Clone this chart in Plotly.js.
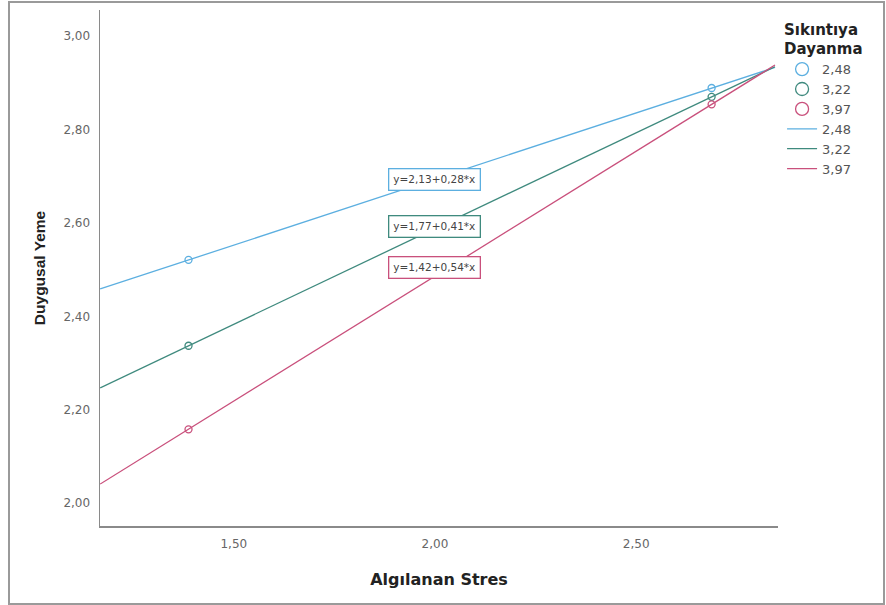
<!DOCTYPE html>
<html>
<head>
<meta charset="utf-8">
<script src="https://cdn.plot.ly/plotly-3.0.1.min.js"></script>
<style>
  html, body { margin: 0; padding: 0; background: #fff; }
  #chart { width: 886px; height: 605px; position: absolute; left: 0; top: 0; }
  #frame { position: absolute; left: 8px; top: 1px; width: 873px; height: 600px; border: 2px solid #9a9a9a; pointer-events: none; }
</style>
</head>
<body>
<div id="chart"></div>
<div id="frame"></div>
<script>
// Groups (Sıkıntıya Dayanma levels)
const groups = ["2,48", "3,22", "3,97"];
const colors = ["#5cafe0", "#3f8a7e", "#c9507c"];
// Observed points (Algılanan Stres at low / high)
const pointX = [1.3875, 2.6875];
const pointY_248 = [2.521, 2.889];
const pointY_322 = [2.337, 2.870];
const pointY_397 = [2.158, 2.854];
// Fit lines (as drawn) and their printed equations
const intercepts = [2.128, 1.768, 1.416];
const slopes = [0.283, 0.41, 0.535];
const eqLabels = ["y=2,13+0,28*x", "y=1,77+0,41*x", "y=1,42+0,54*x"];
const eqLabelX = [2.0, 2.0, 2.0];
const eqLabelY = [2.692, 2.593, 2.505];
// Fit line x range
const lineX = [1.168, 2.845];

const pointYs = [pointY_248, pointY_322, pointY_397];
const font = "Liberation Sans, Arial, sans-serif";
const dfont = "DejaVu Sans, Verdana, sans-serif";

const traces = [];
// observed points (plotted)
groups.forEach((g, i) => {
  traces.push({
    x: pointX, y: pointYs[i], mode: "markers", type: "scatter", name: g,
    marker: { symbol: "circle-open", size: 7, color: colors[i], line: { width: 1.3, color: colors[i] } },
    showlegend: false
  });
});
// legend entries for points (larger symbol in legend)
groups.forEach((g, i) => {
  traces.push({
    x: [null], y: [null], mode: "markers", type: "scatter", name: g,
    marker: { symbol: "circle-open", size: 13, color: colors[i], line: { width: 1.3, color: colors[i] } }
  });
});
// fit lines
groups.forEach((g, i) => {
  traces.push({
    x: lineX, y: lineX.map(x => intercepts[i] + slopes[i] * x), mode: "lines", type: "scatter", name: g,
    line: { color: colors[i], width: 1.3 }
  });
});

const annotations = eqLabels.map((t, i) => ({
  x: eqLabelX[i], y: eqLabelY[i], xref: "x", yref: "y", text: t, showarrow: false,
  font: { family: dfont, size: 10.5, color: "#444" },
  bgcolor: "#ffffff", bordercolor: colors[i], borderwidth: 1.3, borderpad: 4
}));

const layout = {
  width: 886, height: 605,
  margin: { l: 100, r: 108, t: 10, b: 79 },
  paper_bgcolor: "#fff", plot_bgcolor: "#fff",
  font: { family: font, color: "#333" },
  showlegend: true,
  legend: {
    x: 1.006, xanchor: "left", y: 0.99, yanchor: "top",
    title: { text: "<b>Sıkıntıya<br>Dayanma</b>", font: { family: dfont, size: 15, color: "#222" }, side: "top" },
    font: { family: dfont, size: 13, color: "#555" },
    tracegroupgap: 0, traceorder: "normal", itemwidth: 30
  },
  xaxis: {
    range: [1.1675, 2.8525], showgrid: false, zeroline: false,
    showline: true, linecolor: "#8a8a8a", linewidth: 1.5, ticks: "",
    tickvals: [1.5, 2.0, 2.5], ticktext: ["1,50", "2,00", "2,50"],
    tickfont: { family: dfont, size: 12, color: "#666" }, ticklabelstandoff: 6,
    title: { text: "<b>Algılanan Stres</b>", font: { family: dfont, size: 16, color: "#222" }, standoff: 24 }
  },
  yaxis: {
    range: [1.951, 3.056], showgrid: false, zeroline: false,
    showline: true, linecolor: "#8a8a8a", linewidth: 1.5, ticks: "",
    tickvals: [2.0, 2.2, 2.4, 2.6, 2.8, 3.0], ticktext: ["2,00", "2,20", "2,40", "2,60", "2,80", "3,00"],
    tickfont: { family: dfont, size: 12, color: "#666" }, ticklabelstandoff: 6,
    title: { text: "<b>Duygusal Yeme</b>", font: { family: font, size: 15.5, color: "#222" }, standoff: 14 }
  },
  annotations: annotations
};

Plotly.newPlot("chart", traces, layout, { displayModeBar: false, staticPlot: true });
</script>
</body>
</html>
